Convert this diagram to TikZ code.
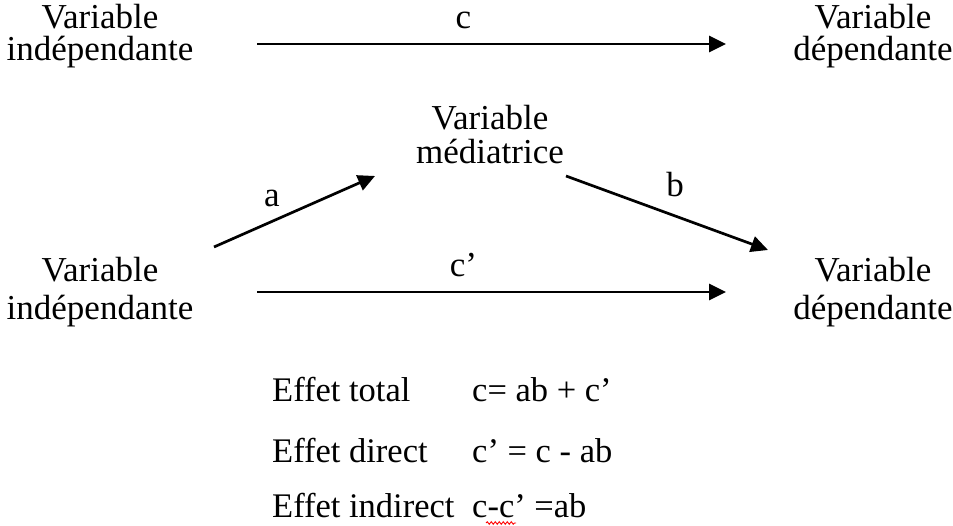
\documentclass[tikz,border=0pt]{standalone}
\usepackage{fontspec}
\setmainfont{Liberation Serif}
\usetikzlibrary{arrows.meta,decorations.pathmorphing}
\tikzset{
  varnode/.style = {align=center,inner sep=0pt,font=\fontsize{35}{#1}\selectfont},
  varnode/.default = 32.5,
  pathlbl/.style = {inner sep=0pt,font=\fontsize{35}{31}\selectfont},
  efftext/.style = {anchor=base west,inner sep=0pt,font=\fontsize{34.5}{31}\selectfont},
  effarr/.style  = {-{Triangle[length=17pt,width=16pt]},line width=2.7pt},
  spellmark/.style = {red,line width=0.9pt,decorate,
                      decoration={snake,amplitude=1.3pt,segment length=4pt}}
}
\begin{document}
\begin{tikzpicture}[x=1pt,y=1pt]
  \useasboundingbox (0,0) rectangle (953,526);
  % effet total
  \node[varnode] (vi1) at (100,490) {Variable\\indépendante};
  \node[varnode] (vd1) at (873,490) {Variable\\dépendante};
  \draw[effarr] ([shift={(157,-8)}]vi1.center) -- ([shift={(-147,-8)}]vd1.center)
    node[pathlbl,pos=0.44,above=14pt] (lc) {c};
  % mediation
  \node[varnode=34] (med) at (490,391) {Variable\\médiatrice};
  \node[varnode=38] (vi2) at (100,234) {Variable\\indépendante};
  \node[varnode=38] (vd2) at (873,234) {Variable\\dépendante};
  \draw[effarr] ([shift={(114,45)}]vi2.center) -- ([shift={(-115,-41)}]med.center);
  \draw[effarr] ([shift={(76,-41)}]med.center) -- ([shift={(-105,42)}]vd2.center);
  \draw[effarr] ([shift={(157,0)}]vi2.center) -- ([shift={(-147,0)}]vd2.center)
    node[pathlbl,pos=0.44,above=14pt] (lcp) {c’};
  \node[pathlbl] (la) at (272,328) {a};
  \node[pathlbl] (lb) at (675,341) {b};
  % equations
  \foreach \eff/\form/\y [count=\i] in {Effet total/{c= ab + c’}/124,
                                        Effet direct/{c’ = c - ab}/63,
                                        Effet indirect/{c-c’ =ab}/8}{
    \node[efftext] (eff\i) at (272,\y) {\eff};
    \node[efftext] (form\i) at (472,\y) {\form};
  }
  \draw[spellmark] ([shift={(14,-5)}]form3.base west) -- ([shift={(44,-5)}]form3.base west);
\end{tikzpicture}
\end{document}
